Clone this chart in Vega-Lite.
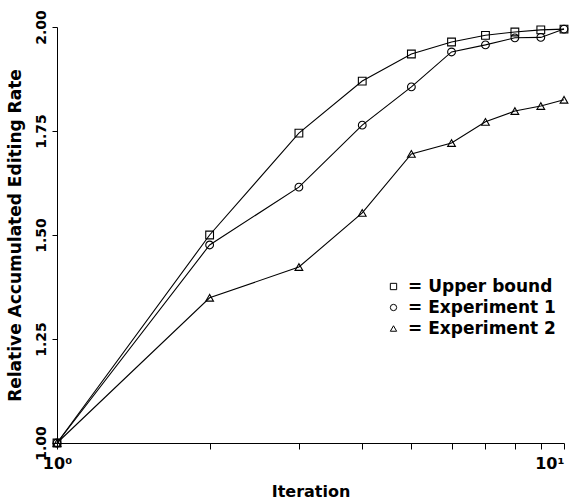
{
  "$schema": "https://vega.github.io/schema/vega-lite/v6.json",
  "width": 507,
  "height": 416,
  "autosize": {"type": "none"},
  "padding": {"left": 57, "top": 27, "right": 11, "bottom": 59},
  "background": "white",
  "config": {
    "view": {"stroke": null},
    "font": "DejaVu Sans",
    "axis": {"grid": false, "domainColor": "black", "tickColor": "black", "labelColor": "black", "titleColor": "black", "labelFont": "DejaVu Sans", "titleFont": "DejaVu Sans", "labelFontWeight": "bold", "titleFontWeight": "bold"}
  },
  "data": {
    "values": [
      {"iteration": 1, "series": "Upper bound", "rate": 1.0},
      {"iteration": 2, "series": "Upper bound", "rate": 1.50},
      {"iteration": 3, "series": "Upper bound", "rate": 1.745},
      {"iteration": 4, "series": "Upper bound", "rate": 1.87},
      {"iteration": 5, "series": "Upper bound", "rate": 1.935},
      {"iteration": 6, "series": "Upper bound", "rate": 1.964},
      {"iteration": 7, "series": "Upper bound", "rate": 1.98},
      {"iteration": 8, "series": "Upper bound", "rate": 1.988},
      {"iteration": 9, "series": "Upper bound", "rate": 1.993},
      {"iteration": 10, "series": "Upper bound", "rate": 1.995},
      {"iteration": 1, "series": "Experiment 1", "rate": 1.0},
      {"iteration": 2, "series": "Experiment 1", "rate": 1.476},
      {"iteration": 3, "series": "Experiment 1", "rate": 1.615},
      {"iteration": 4, "series": "Experiment 1", "rate": 1.764},
      {"iteration": 5, "series": "Experiment 1", "rate": 1.856},
      {"iteration": 6, "series": "Experiment 1", "rate": 1.94},
      {"iteration": 7, "series": "Experiment 1", "rate": 1.957},
      {"iteration": 8, "series": "Experiment 1", "rate": 1.974},
      {"iteration": 9, "series": "Experiment 1", "rate": 1.975},
      {"iteration": 10, "series": "Experiment 1", "rate": 1.995},
      {"iteration": 1, "series": "Experiment 2", "rate": 1.0},
      {"iteration": 2, "series": "Experiment 2", "rate": 1.349},
      {"iteration": 3, "series": "Experiment 2", "rate": 1.423},
      {"iteration": 4, "series": "Experiment 2", "rate": 1.553},
      {"iteration": 5, "series": "Experiment 2", "rate": 1.695},
      {"iteration": 6, "series": "Experiment 2", "rate": 1.721},
      {"iteration": 7, "series": "Experiment 2", "rate": 1.772},
      {"iteration": 8, "series": "Experiment 2", "rate": 1.798},
      {"iteration": 9, "series": "Experiment 2", "rate": 1.81},
      {"iteration": 10, "series": "Experiment 2", "rate": 1.825}
    ]
  },
  "encoding": {
    "x": {
      "field": "iteration", "type": "quantitative",
      "scale": {"type": "log", "domain": [1, 10], "nice": false},
      "axis": {
        "title": "Iteration", "titleFontSize": 16, "titlePadding": 12,
        "values": [1, 2, 3, 4, 5, 6, 7, 8, 9, 10],
        "labelExpr": "datum.value == 1 ? '10⁰' : datum.value == 10 ? '10¹' : ''",
        "labelAlign": {"condition": {"test": "datum.value == 10", "value": "right"}, "value": "center"},
        "labelFontSize": 16, "tickSize": 6, "labelPadding": 6, "labelFlush": false, "labelOverlap": false
      }
    },
    "y": {
      "field": "rate", "type": "quantitative",
      "scale": {"domain": [1, 2], "nice": false, "zero": false},
      "axis": {
        "title": "Relative Accumulated Editing Rate", "titleFontSize": 17, "titlePadding": 10,
        "values": [1, 1.25, 1.5, 1.75, 2], "format": ".2f",
        "labelAngle": -90, "labelAlign": "center", "labelBaseline": "bottom",
        "labelFontSize": 14, "tickSize": 5, "labelPadding": 4, "labelFlush": false
      }
    }
  },
  "layer": [
    {
      "mark": {"type": "line", "color": "black", "strokeWidth": 1.1},
      "encoding": {"detail": {"field": "series"}}
    },
    {
      "mark": {"type": "point", "filled": false, "color": "black", "size": 60, "strokeWidth": 1.1, "opacity": 1},
      "encoding": {
        "shape": {
          "field": "series", "type": "nominal",
          "scale": {"domain": ["Upper bound", "Experiment 1", "Experiment 2"], "range": ["square", "circle", "triangle-up"]},
          "legend": {
            "title": null, "orient": "none", "legendX": 328, "legendY": 251,
            "labelExpr": "'= ' + datum.label",
            "labelFontSize": 17, "labelFont": "DejaVu Sans", "labelFontWeight": "bold", "labelColor": "black",
            "symbolSize": 40, "symbolStrokeColor": "black", "symbolStrokeWidth": 1, "symbolFillColor": "white",
            "rowPadding": 3, "labelOffset": 6
          }
        }
      }
    }
  ]
}
